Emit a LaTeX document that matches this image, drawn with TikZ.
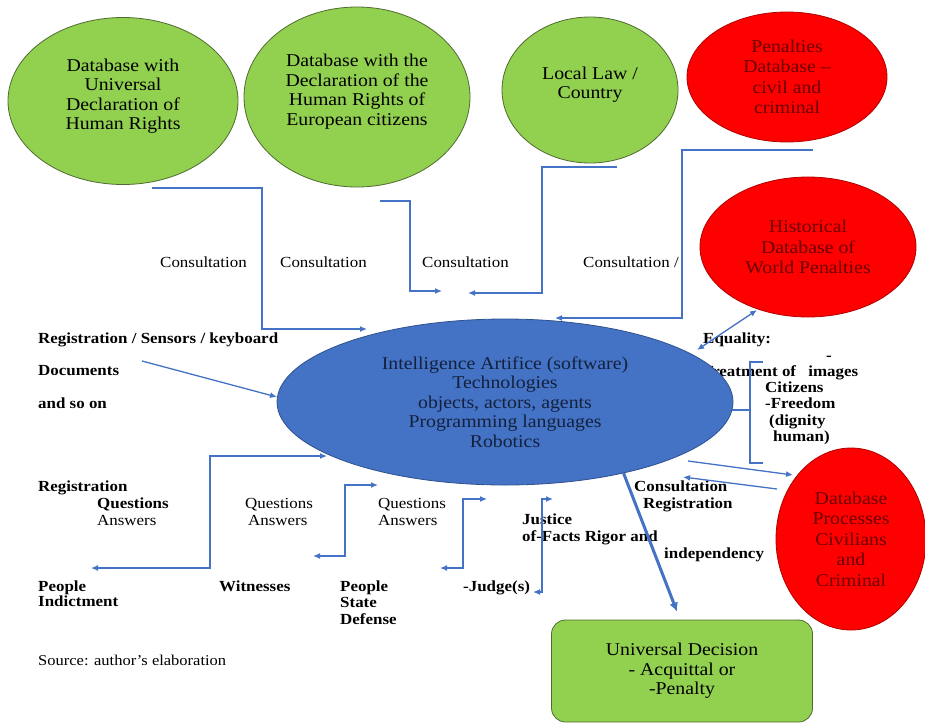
\documentclass[tikz,border=0pt]{standalone}
\usepackage{fontspec}
\setmainfont{Liberation Serif}[FakeStretch=1.1]
\usetikzlibrary{shapes.geometric, arrows.meta}
\definecolor{lawgreen}{HTML}{92D050}
\definecolor{lawrim}{HTML}{4F6B30}
\definecolor{penred}{HTML}{FF0000}
\definecolor{penrim}{HTML}{B00000}
\definecolor{pentext}{HTML}{6A0000}
\definecolor{aiblue}{HTML}{4472C4}
\definecolor{airim}{HTML}{2F528F}
\definecolor{aitext}{HTML}{14213D}
\definecolor{link}{HTML}{4472C4}

\begin{document}
\begin{tikzpicture}[x=1pt,y=-1pt]
    \useasboundingbox (0,0) rectangle (925,724);
    \tikzset{base/.style={shape = ellipse, inner sep = 0pt,
                align = center, line width = 0.8pt,
                font = \fontsize{18}{19.5}\selectfont},
             lawdb/.style={base, fill = lawgreen, draw = lawrim},
             pendb/.style={base, fill = penred, draw = penrim,
                text = pentext, font = \fontsize{18}{20.5}\selectfont},
             tag/.style={anchor = base west, align = left, inner sep = 0pt,
                font = \bfseries\fontsize{15.4}{16.5}\selectfont},
             note/.style={tag, font = \fontsize{15.4}{16.5}\selectfont},
             conn/.style={draw = link, line width = 1.3pt,
                arrows = {-Latex[length=7pt,width=6pt]}},
             twin/.style={conn, arrows = {Latex[length=7pt,width=6pt]-Latex[length=7pt,width=6pt]}}}
    \node[lawdb, text depth = 14pt, minimum width = 230pt, minimum height = 167pt] (udhr) at (123,101)
        {Database with\\Universal\\Declaration of\\Human Rights};
    \node[lawdb, text depth = 15pt, minimum width = 226pt, minimum height = 180pt] (echr) at (357,97)
        {Database with the\\Declaration of the\\Human Rights of\\European citizens};
    \node[lawdb, text depth = 15pt, minimum width = 176pt, minimum height = 146pt] (local) at (590,90)
        {Local Law /\\Country};
    \node[pendb, minimum width = 200pt, minimum height = 130pt] (penal) at (787,77)
        {Penalties\\Database --\\civil and\\criminal};
    \node[pendb, minimum width = 216pt, minimum height = 140pt] (hist) at (808,247)
        {Historical\\Database of\\World Penalties};
    \node[tag] (treat) at (702,376) {Treatment of\hspace{8pt} images};
    \node[base, fill = aiblue, draw = airim, text = aitext,
          minimum width = 456pt, minimum height = 166pt] (ai) at (505,402)
        {Intelligence Artifice (software)\\Technologies\\objects, actors, agents\\Programming languages\\Robotics};
    \node[pendb, minimum width = 150pt, minimum height = 182pt] (proc) at (851,539)
        {Database\\Processes\\Civilians\\and\\Criminal};
    \node[base, shape = rectangle, rounded corners = 14pt, fill = lawgreen, draw = lawrim,
          minimum width = 261pt, minimum height = 102pt] (dec) at (682,671)
        {Universal Decision\\- Acquittal or\\-Penalty};

    \node[note] (cons1) at (160,267) {Consultation};
    \node[note] (cons2) at (280,267) {Consultation};
    \node[note] (cons3) at (422,267) {Consultation};
    \node[note] (cons4) at (583,267) {Consultation /};
    \node[tag] (sens) at (38,343) {Registration / Sensors / keyboard};
    \node[tag] (docs) at (38,375) {Documents};
    \node[tag] (soon) at (38,408) {and so on};
    \node[tag] (equal) at (703,343) {Equality:};
    \node[tag] (dash) at (826,360) {-};
    \node[tag] (citiz) at (765,441.5) {Citizens\\-Freedom\\\hspace{4pt}(dignity\\\hspace{8pt}human)};
    \node[tag] (reg) at (38,491) {Registration};
    \node[tag] (qa1) at (97,525) {Questions\\\mdseries Answers};
    \node[note] (qa2) at (245,525) {Questions\\\hspace{3pt}Answers};
    \node[note] (qa3) at (378,525) {Questions\\Answers};
    \node[tag] (consreg) at (634,508) {Consultation\\\hspace{9pt}Registration};
    \node[tag] (just) at (522,541) {Justice\\of-Facts Rigor and};
    \node[tag] (indep) at (664,558) {independency};
    \node[tag, font = \bfseries\fontsize{15.4}{15.5}\selectfont] (indict) at (38,606.5) {People\\Indictment};
    \node[tag] (wit) at (219,591) {Witnesses};
    \node[tag] (state) at (340,624) {People\\State\\Defense};
    \node[tag] (judge) at (463,591) {-Judge(s)};
    \node[note, font = \fontsize{15}{16}\selectfont] (src) at (38,665) {Source: author's elaboration};

    \coordinate (u1) at (152,188);
    \coordinate (u2) at (367,329);
    \coordinate (e1) at (380,201);
    \coordinate (e2) at (442,291);
    \coordinate (l1) at (617,167);
    \coordinate (l2) at (468,293);
    \coordinate (p1) at (813,150);
    \coordinate (p2) at (555,318);
    \draw[conn] (u1) -- ++(110,0) |- (u2);
    \draw[conn] (e1) -- ++(30,0) |- (e2);
    \draw[conn] (l1) -- ++(-75,0) |- (l2);
    \draw[conn] (p1) -- ++(-131,0) |- (p2);

    \coordinate (d1) at (142,361);
    \coordinate (d2) at (277,397);
    \draw[conn] (d1) -- (d2);

    \coordinate (h1) at (697,350);
    \coordinate (h2) at (757,310);
    \draw[twin] (h1) -- (h2);
    \coordinate (b0) at (732,410);
    \coordinate (b1) at (763,362);
    \coordinate (b2) at (763,463);
    \draw[draw = link, line width = 1.3pt] (b1) -- ++(-13,0) -- ++(0,101) -- (b2);
    \draw[draw = link, line width = 1.3pt] (b0) -- ++(18,0);
    \coordinate (r1) at (688,461);
    \coordinate (r2) at (793,475);
    \coordinate (r3) at (777,489);
    \coordinate (r4) at (683,477);
    \draw[conn] (r1) -- (r2);
    \draw[conn] (r3) -- (r4);

    \coordinate (q1) at (91,568);
    \coordinate (q2) at (327,456);
    \coordinate (q3) at (313,556);
    \coordinate (q4) at (378,485);
    \coordinate (q5) at (440,568);
    \coordinate (q6) at (487,499);
    \coordinate (q7) at (533,592);
    \coordinate (q8) at (553,499);
    \draw[twin] (q1) -- ++(119,0) |- (q2);
    \draw[twin] (q3) -- ++(32,0) |- (q4);
    \draw[twin] (q5) -- ++(23,0) |- (q6);
    \draw[twin] (q7) -- ++(9,0) |- (q8);

    \draw[conn, line width = 3pt, arrows = {-Latex[length=9pt,width=9pt]}]
        (ai.-31) -- ([xshift=-5pt,yshift=8pt]dec.north);
\end{tikzpicture}
\end{document}
